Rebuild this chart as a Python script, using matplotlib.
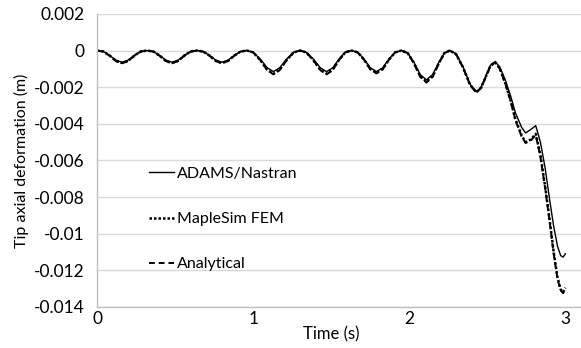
import matplotlib
matplotlib.use("Agg")
import matplotlib.pyplot as plt

plt.rcParams['font.family'] = ['Lato', 'DejaVu Sans']

time_s = [
    0.00, 0.04, 0.08, 0.12, 0.16, 0.20, 0.24, 0.28,
    0.32, 0.36, 0.40, 0.44, 0.48, 0.52, 0.56, 0.60,
    0.64, 0.68, 0.72, 0.76, 0.80, 0.84, 0.88, 0.92,
    0.96, 1.00, 1.045, 1.09, 1.13, 1.17, 1.215, 1.26,
    1.30, 1.34, 1.385, 1.43, 1.47, 1.51, 1.55, 1.59,
    1.63, 1.67, 1.71, 1.75, 1.79, 1.83, 1.87, 1.91,
    1.95, 1.99, 2.03, 2.07, 2.11, 2.15, 2.19, 2.225,
    2.26, 2.30, 2.345, 2.39, 2.43, 2.46, 2.49, 2.52,
    2.55, 2.58, 2.615, 2.65, 2.68, 2.72, 2.745, 2.78, 2.81,
    2.84, 2.87, 2.90, 2.925, 2.95, 2.97, 2.985, 3.00,
]

adams_nastran = [
    0, -0.00005, -0.00026, -0.00052, -0.00064, -0.00052, -0.00026, -0.00005,
    0, -0.00005, -0.00026, -0.00052, -0.00064, -0.00052, -0.00026, -0.00005,
    0, -0.00005, -0.00026, -0.00052, -0.00064, -0.00052, -0.00026, -0.00005,
    0, -0.00009, -0.00046, -0.00094, -0.00115, -0.00094, -0.00046, -0.00009,
    0, -0.00009, -0.00046, -0.00094, -0.00115, -0.00094, -0.00046, -0.00009,
    0, -0.00009, -0.00046, -0.00094, -0.00115, -0.00094, -0.00046, -0.00009,
    0, -0.00013, -0.00064, -0.00131, -0.0016, -0.00131, -0.00064, -0.00013,
    0, -0.00018, -0.0009, -0.00185, -0.00225, -0.0020, -0.0014, -0.0008,
    -0.0006, -0.0009, -0.0016, -0.0025, -0.0034, -0.0042, -0.0045, -0.0043, -0.0041,
    -0.0050, -0.0064, -0.0082, -0.0096, -0.0107, -0.0112, -0.01128, -0.0111,
]

maplesim_fem = [
    0, -0.00005, -0.00027, -0.00056, -0.00068, -0.00056, -0.00027, -0.00005,
    0, -0.00005, -0.00027, -0.00056, -0.00068, -0.00056, -0.00027, -0.00005,
    0, -0.00005, -0.00027, -0.00056, -0.00068, -0.00056, -0.00027, -0.00005,
    0, -0.0001, -0.00051, -0.00104, -0.00127, -0.00104, -0.00051, -0.0001,
    0, -0.0001, -0.00051, -0.00104, -0.00127, -0.00104, -0.00051, -0.0001,
    0, -0.0001, -0.00049, -0.0010, -0.00122, -0.0010, -0.00049, -0.0001,
    0, -0.00014, -0.00068, -0.00139, -0.0017, -0.00139, -0.00068, -0.00014,
    0, -0.0002, -0.00093, -0.00188, -0.00228, -0.00203, -0.00143, -0.00083,
    -0.00063, -0.00098, -0.00178, -0.00275, -0.00375, -0.00465, -0.0050, -0.00485, -0.00455,
    -0.0057, -0.0074, -0.0093, -0.0110, -0.0124, -0.01305, -0.0132, -0.01295,
]

analytical = [
    0, -0.00006, -0.00028, -0.00057, -0.0007, -0.00057, -0.00028, -0.00006,
    0, -0.00006, -0.00028, -0.00057, -0.0007, -0.00057, -0.00028, -0.00006,
    0, -0.00006, -0.00028, -0.00057, -0.0007, -0.00057, -0.00028, -0.00006,
    0, -0.0001, -0.00052, -0.00107, -0.0013, -0.00107, -0.00052, -0.0001,
    0, -0.0001, -0.00052, -0.00107, -0.0013, -0.00107, -0.00052, -0.0001,
    0, -0.0001, -0.0005, -0.00103, -0.00125, -0.00103, -0.0005, -0.0001,
    0, -0.00014, -0.0007, -0.00144, -0.00175, -0.00144, -0.0007, -0.00014,
    0, -0.0002, -0.00095, -0.0019, -0.0023, -0.00205, -0.00145, -0.00085,
    -0.00065, -0.0010, -0.0018, -0.0028, -0.0038, -0.0047, -0.00505, -0.0049, -0.0046,
    -0.0058, -0.0075, -0.0094, -0.0111, -0.0125, -0.0131, -0.01325, -0.0130,
]

series_labels = ["ADAMS/Nastran", "MapleSim FEM", "Analytical"]
x_ticks = [0, 1, 2, 3]
y_ticks = [0.002, 0, -0.002, -0.004, -0.006, -0.008, -0.01, -0.012, -0.014]
y_tick_labels = ["0.002", "0", "-0.002", "-0.004", "-0.006", "-0.008", "-0.01", "-0.012", "-0.014"]

fig = plt.figure(figsize=(5.81, 3.48), dpi=100)
ax = fig.add_axes([0.167, 0.118, 0.833, 0.842])

ax.plot(time_s, adams_nastran, color='black', lw=1.0, ls='-', label=series_labels[0])
ax.plot(time_s, maplesim_fem, color='black', lw=1.8, ls=(0, (1, 0.8)), label=series_labels[1])
ax.plot(time_s, analytical, color='black', lw=1.4, ls=(0, (3, 2)), label=series_labels[2])

ax.set_xlim(0, 3.1)
ax.set_ylim(-0.014, 0.002)
ax.set_xticks(x_ticks)
ax.set_xticklabels([str(v) for v in x_ticks])
ax.set_yticks(y_ticks)
ax.set_yticklabels(y_tick_labels)
ax.tick_params(axis='both', length=0, labelsize=12.5, colors='black')
ax.tick_params(axis='y', pad=9)
ax.tick_params(axis='x', pad=3)
ax.grid(axis='y', color='#d9d9d9', lw=1)
ax.set_axisbelow(True)
for s in ['top', 'right']:
    ax.spines[s].set_visible(False)
for s in ['left', 'bottom']:
    ax.spines[s].set_color('#bfbfbf')
    ax.spines[s].set_linewidth(1)

ax.set_ylabel("Tip axial deformation (m)", fontsize=11.5)
ax.yaxis.set_label_coords(-0.14, 0.5)
ax.text(1.5, -0.01505, "Time (s)", ha='center', va='top', fontsize=12,
        transform=ax.transData)

leg = ax.legend(loc='center left', bbox_to_anchor=(0.094, 0.30), frameon=False,
                fontsize=11.5, handlelength=1.6, handletextpad=0.15, labelspacing=1.95,
                borderaxespad=0)

fig.savefig("out.png", dpi=100)
